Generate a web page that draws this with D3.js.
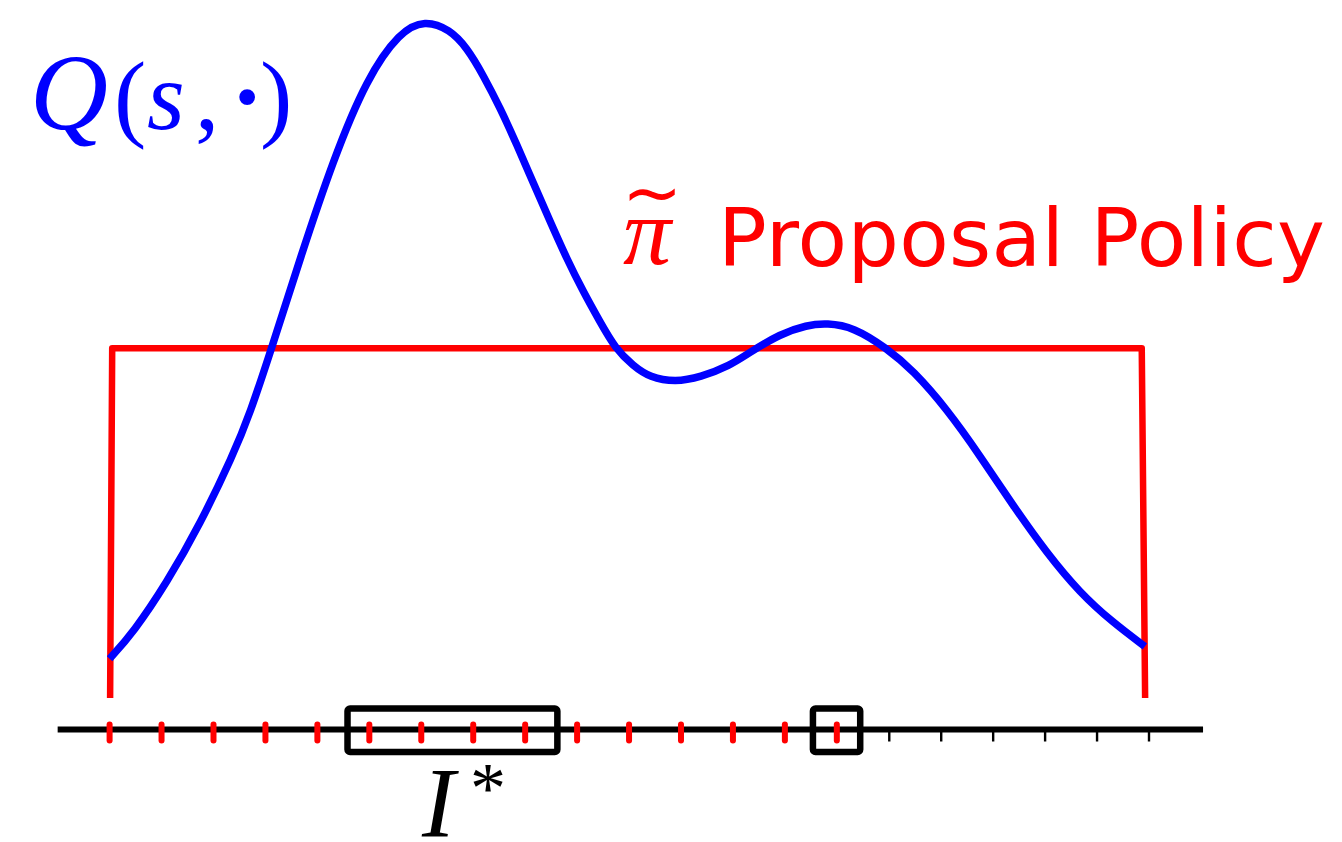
<!DOCTYPE html>
<html>
<head>
<meta charset="utf-8">
<script src="https://cdn.jsdelivr.net/npm/d3@7"></script>
<style>
  html, body { margin: 0; padding: 0; background: #fff; }
  svg { display: block; }
</style>
</head>
<body>
<svg id="chart" width="1342" height="842"></svg>
<script>
// Action axis runs over 20 grid steps; Q values are normalised to the peak.
const qActions = [0, 0.46, 1.10, 1.74, 2.38, 2.70, 3.12, 3.67, 4.31, 4.95, 5.59, 6.07, 6.55, 6.88,
                  7.19, 7.52, 7.84, 8.16, 8.48, 8.80, 9.12, 9.44, 9.73, 10.08, 10.40, 10.89, 11.37,
                  11.94, 12.33, 12.91, 13.42, 13.81, 14.32, 14.96, 15.47, 16.12, 16.76, 17.40, 18.04,
                  18.68, 19.32, 19.93];
const qValues  = [0.058, 0.097, 0.170, 0.256, 0.359, 0.419, 0.516, 0.649, 0.795, 0.914, 0.983, 1.0,
                  0.986, 0.959, 0.919, 0.870, 0.816, 0.759, 0.703, 0.648, 0.599, 0.555, 0.516, 0.490,
                  0.473, 0.466, 0.473, 0.490, 0.510, 0.537, 0.550, 0.553, 0.547, 0.516, 0.483, 0.426,
                  0.357, 0.283, 0.214, 0.155, 0.111, 0.076];

// Uniform proposal density drawn as a box over the action range.
const proposalActions = [0.01, 0.05, 19.87, 19.935];
const proposalValues  = [0, 0.516, 0.516, 0];

// Grid of actions on the axis: sampled ones (red) and the rest (black).
const sampledActions   = [0, 1, 2, 3, 4, 5, 6, 7, 8, 9, 10, 11, 12, 13, 14];
const unsampledActions = [15, 16, 17, 18, 19, 20];
const axisExtent = [-1, 21.05];

// Highlighted intervals: the top interval I* and the single best sample.
const intervals = [[4.58, 8.62], [13.54, 14.45]];

const svg = d3.select("#chart");
const x = d3.scaleLinear().domain([0, 20]).range([109.6, 1148.5]);
const y = d3.scaleLinear().domain([0, 1]).range([698, 20]);
const axisY = 729.5;

// Proposal policy
svg.append("path")
  .datum(proposalActions.map((a, i) => [a, proposalValues[i]]))
  .attr("fill", "none")
  .attr("stroke", "#ff0000")
  .attr("stroke-width", 6.5)
  .attr("stroke-linejoin", "round")
  .attr("d", d3.line().x(d => x(d[0])).y(d => y(d[1])));

// Q function (smoothed through the sampled values)
svg.append("path")
  .datum(qActions.map((a, i) => [a, qValues[i]]))
  .attr("fill", "none")
  .attr("stroke", "#0000ff")
  .attr("stroke-width", 7.5)
  .attr("d", d3.line().curve(d3.curveBasis).x(d => x(d[0])).y(d => y(d[1])));

// Axis line with small ticks for unsampled actions
const axisG = svg.append("g").attr("transform", `translate(0,${axisY})`);
axisG.call(d3.axisBottom(x).tickValues(unsampledActions).tickSize(12).tickFormat(""))
  .call(g => g.select(".domain").remove())
  .call(g => g.selectAll(".tick line").attr("stroke", "#000").attr("stroke-width", 2.4));
axisG.append("line")
  .attr("x1", x(axisExtent[0])).attr("x2", x(axisExtent[1]))
  .attr("stroke", "#000").attr("stroke-width", 6);

// Sampled actions
svg.append("g").selectAll("line")
  .data(sampledActions)
  .join("line")
  .attr("x1", d => x(d)).attr("x2", d => x(d))
  .attr("y1", axisY - 5).attr("y2", axisY + 11)
  .attr("stroke", "#ff0000")
  .attr("stroke-width", 6)
  .attr("stroke-linecap", "round");

// Interval boxes
svg.append("g").selectAll("rect")
  .data(intervals)
  .join("rect")
  .attr("x", d => x(d[0])).attr("width", d => x(d[1]) - x(d[0]))
  .attr("y", axisY - 21).attr("height", 43.5)
  .attr("rx", 2.5)
  .attr("fill", "none")
  .attr("stroke", "#000")
  .attr("stroke-width", 6.5);

// Labels
const serif = "'Liberation Serif', 'Times New Roman', serif";
const qLabel = svg.append("text")
  .attr("y", 129)
  .attr("fill", "#0000ff")
  .attr("font-family", serif)
  .attr("font-size", 97);
qLabel.append("tspan").attr("x", 30).attr("font-style", "italic").attr("font-size", 108).text("Q");
qLabel.append("tspan").attr("x", 114).text("(");
qLabel.append("tspan").attr("x", 147).attr("font-style", "italic").text("s");
qLabel.append("tspan").attr("x", 195).text(",");
qLabel.append("tspan").attr("x", 231).attr("font-weight", "bold").text("·");
qLabel.append("tspan").attr("x", 260).text(")");

svg.append("text")
  .attr("x", 623).attr("y", 264)
  .attr("fill", "#ff0000")
  .attr("font-family", serif)
  .attr("font-style", "italic")
  .attr("font-size", 96)
  .text("π");
svg.append("text")
  .attr("x", 622).attr("y", 217)
  .attr("fill", "#ff0000")
  .attr("font-family", "'DejaVu Sans', sans-serif")
  .attr("font-size", 72)
  .text("~");
svg.append("text")
  .attr("x", 718).attr("y", 266)
  .attr("fill", "#ff0000")
  .attr("font-family", "'DejaVu Sans', sans-serif")
  .attr("font-size", 81)
  .attr("textLength", 607)
  .text("Proposal Policy");

const iLabel = svg.append("text")
  .attr("y", 836)
  .attr("fill", "#000")
  .attr("font-family", serif)
  .attr("font-size", 99);
iLabel.append("tspan").attr("x", 422).attr("font-style", "italic").text("I");
iLabel.append("tspan").attr("x", 470).attr("font-size", 72).attr("dy", -24).text("*");
</script>
</body>
</html>
